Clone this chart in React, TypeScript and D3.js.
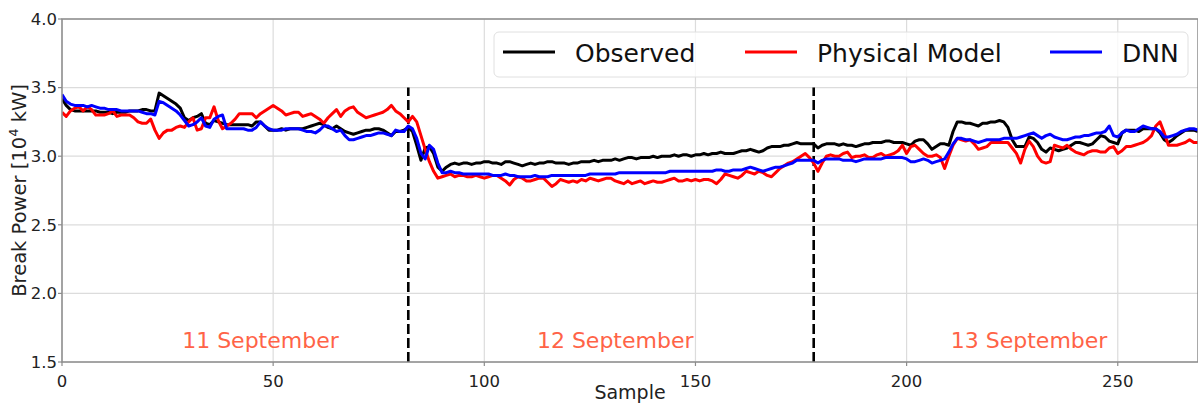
import React from "react";
import * as d3 from "d3";

// samples 0..269, values in 10^4 kW
const observed = [
  3.42, 3.37, 3.34, 3.33, 3.33, 3.33, 3.33, 3.33, 3.33, 3.32,
  3.32, 3.32, 3.31, 3.32, 3.32, 3.32, 3.33, 3.33, 3.33, 3.34,
  3.34, 3.33, 3.33, 3.46, 3.44, 3.42, 3.40, 3.38, 3.35, 3.28,
  3.26, 3.28, 3.29, 3.31, 3.24, 3.23, 3.26, 3.25, 3.24, 3.23,
  3.23, 3.23, 3.23, 3.23, 3.23, 3.22, 3.25, 3.25, 3.22, 3.19,
  3.19, 3.19, 3.20, 3.19, 3.20, 3.20, 3.20, 3.20, 3.21, 3.22,
  3.23, 3.24, 3.23, 3.21, 3.20, 3.22, 3.20, 3.18, 3.17, 3.16,
  3.17, 3.18, 3.19, 3.19, 3.20, 3.20, 3.19, 3.17, 3.15, 3.18,
  3.18, 3.19, 3.21, 3.18, 3.08, 2.97, 3.06, 3.07, 3.02, 2.92,
  2.89, 2.92, 2.94, 2.95, 2.94, 2.95, 2.95, 2.94, 2.95, 2.95,
  2.96, 2.96, 2.95, 2.95, 2.94, 2.96, 2.96, 2.95, 2.94, 2.93,
  2.94, 2.95, 2.94, 2.95, 2.95, 2.96, 2.96, 2.95, 2.95, 2.95,
  2.94, 2.95, 2.95, 2.96, 2.96, 2.96, 2.97, 2.96, 2.97, 2.97,
  2.97, 2.98, 2.97, 2.98, 2.99, 2.99, 2.98, 2.99, 2.99, 2.99,
  3.00, 2.99, 3.00, 3.00, 3.00, 3.01, 3.00, 3.01, 3.01, 3.00,
  3.01, 3.01, 3.02, 3.01, 3.02, 3.02, 3.03, 3.02, 3.02, 3.02,
  3.03, 3.04, 3.04, 3.05, 3.04, 3.03, 3.04, 3.06, 3.07, 3.07,
  3.07, 3.08, 3.08, 3.09, 3.10, 3.09, 3.09, 3.09, 3.09, 3.06,
  3.08, 3.09, 3.09, 3.09, 3.08, 3.09, 3.08, 3.08, 3.07, 3.08,
  3.09, 3.09, 3.10, 3.10, 3.10, 3.11, 3.11, 3.10, 3.10, 3.10,
  3.09, 3.08, 3.11, 3.12, 3.12, 3.09, 3.05, 3.07, 3.09, 3.09,
  3.08, 3.18, 3.25, 3.25, 3.24, 3.24, 3.23, 3.22, 3.24, 3.24,
  3.25, 3.25, 3.26, 3.25, 3.21, 3.12, 3.07, 3.07, 3.07, 3.14,
  3.13, 3.10, 3.05, 3.03, 3.06, 3.05, 3.04, 3.05, 3.06, 3.08,
  3.10, 3.10, 3.09, 3.08, 3.09, 3.12, 3.15, 3.14, 3.11, 3.10,
  3.09, 3.17, 3.19, 3.19, 3.19, 3.18, 3.20, 3.20, 3.20, 3.20,
  3.17, 3.12, 3.10, 3.12, 3.15, 3.17, 3.19, 3.19, 3.19, 3.18,
];

const physical = [
  3.32, 3.29, 3.33, 3.35, 3.36, 3.33, 3.36, 3.34, 3.30, 3.30,
  3.30, 3.31, 3.33, 3.29, 3.30, 3.30, 3.30, 3.28, 3.25, 3.24,
  3.24, 3.27, 3.19, 3.13, 3.17, 3.19, 3.19, 3.21, 3.22, 3.21,
  3.25, 3.28, 3.19, 3.20, 3.28, 3.28, 3.36, 3.26, 3.20, 3.22,
  3.24, 3.27, 3.31, 3.31, 3.31, 3.31, 3.28, 3.31, 3.33, 3.35,
  3.37, 3.35, 3.33, 3.30, 3.31, 3.32, 3.32, 3.29, 3.30, 3.31,
  3.29, 3.27, 3.24, 3.28, 3.31, 3.34, 3.29, 3.33, 3.35, 3.36,
  3.32, 3.30, 3.28, 3.29, 3.30, 3.31, 3.32, 3.34, 3.37, 3.33,
  3.31, 3.28, 3.25, 3.29, 3.25, 3.15, 3.05, 2.96, 2.89, 2.84,
  2.85, 2.86, 2.87, 2.85, 2.86, 2.86, 2.85, 2.85, 2.86, 2.85,
  2.84, 2.85, 2.86, 2.86, 2.84, 2.82, 2.79, 2.83, 2.85, 2.84,
  2.82, 2.82, 2.83, 2.84, 2.84, 2.81, 2.78, 2.80, 2.83, 2.82,
  2.81, 2.82, 2.81, 2.83, 2.82, 2.84, 2.83, 2.82, 2.83, 2.84,
  2.84, 2.82, 2.81, 2.80, 2.82, 2.80, 2.81, 2.82, 2.80, 2.81,
  2.82, 2.81, 2.81, 2.82, 2.83, 2.84, 2.82, 2.82, 2.83, 2.82,
  2.83, 2.82, 2.83, 2.83, 2.82, 2.80, 2.83, 2.87, 2.86, 2.85,
  2.84, 2.86, 2.89, 2.88, 2.87, 2.89, 2.88, 2.86, 2.85, 2.88,
  2.91, 2.93, 2.95, 2.96, 2.98, 3.00, 3.02, 2.99, 2.95, 2.89,
  2.95, 3.00, 3.01, 3.00, 3.00, 3.02, 3.03, 2.99, 3.00, 3.00,
  3.01, 2.99, 2.99, 3.01, 3.02, 3.00, 3.01, 3.02, 3.04, 3.08,
  3.02, 3.07, 3.08, 3.05, 3.02, 3.00, 3.00, 3.01, 2.99, 2.91,
  3.00, 3.08, 3.13, 3.12, 3.11, 3.12, 3.09, 3.05, 3.06, 3.07,
  3.10, 3.10, 3.10, 3.10, 3.10, 3.06, 3.02, 2.95, 3.05, 3.11,
  3.07, 3.00, 2.96, 2.95, 2.96, 3.08, 3.07, 3.06, 3.08, 3.05,
  3.03, 3.02, 3.01, 3.03, 3.04, 3.04, 3.03, 3.03, 3.06, 3.07,
  3.02, 3.04, 3.07, 3.07, 3.08, 3.09, 3.10, 3.12, 3.15, 3.22,
  3.25, 3.17, 3.08, 3.08, 3.08, 3.09, 3.10, 3.12, 3.10, 3.10,
];

const dnn = [
  3.45, 3.40, 3.38, 3.37, 3.37, 3.37, 3.36, 3.37, 3.36, 3.35,
  3.35, 3.34, 3.34, 3.34, 3.33, 3.33, 3.33, 3.33, 3.33, 3.32,
  3.31, 3.31, 3.30, 3.40, 3.39, 3.37, 3.35, 3.33, 3.30, 3.26,
  3.22, 3.23, 3.25, 3.28, 3.22, 3.21, 3.27, 3.29, 3.30, 3.20,
  3.20, 3.20, 3.20, 3.20, 3.19, 3.19, 3.21, 3.25, 3.22, 3.20,
  3.19, 3.19, 3.19, 3.20, 3.20, 3.20, 3.20, 3.19, 3.18, 3.18,
  3.17, 3.19, 3.22, 3.22, 3.20, 3.18, 3.19, 3.15, 3.12, 3.12,
  3.13, 3.14, 3.15, 3.15, 3.16, 3.17, 3.17, 3.16, 3.15, 3.19,
  3.18, 3.18, 3.22, 3.20, 3.13, 3.02, 2.98, 3.08, 3.05, 2.95,
  2.88, 2.88, 2.89, 2.88, 2.88, 2.87, 2.87, 2.87, 2.87, 2.87,
  2.87, 2.87, 2.86, 2.86, 2.86, 2.87, 2.86, 2.86, 2.85, 2.85,
  2.85, 2.85, 2.86, 2.85, 2.85, 2.85, 2.86, 2.86, 2.86, 2.86,
  2.86, 2.86, 2.86, 2.86, 2.86, 2.87, 2.87, 2.87, 2.87, 2.87,
  2.87, 2.87, 2.88, 2.88, 2.88, 2.88, 2.88, 2.88, 2.88, 2.88,
  2.88, 2.88, 2.88, 2.88, 2.89, 2.89, 2.89, 2.89, 2.89, 2.89,
  2.89, 2.89, 2.89, 2.89, 2.89, 2.90, 2.90, 2.89, 2.89, 2.90,
  2.90, 2.90, 2.91, 2.92, 2.91, 2.90, 2.89, 2.90, 2.91, 2.92,
  2.92, 2.93, 2.94, 2.95, 2.97, 2.97, 2.97, 2.97, 2.97, 2.95,
  2.97, 2.98, 2.98, 2.98, 2.98, 2.97, 2.97, 2.97, 2.96, 2.97,
  2.98, 2.98, 2.98, 2.98, 2.98, 2.99, 2.99, 2.99, 2.99, 2.99,
  2.98, 2.96, 2.96, 2.97, 2.98, 2.97, 2.95, 2.96, 2.97, 2.98,
  3.03, 3.09, 3.13, 3.13, 3.12, 3.12, 3.11, 3.10, 3.11, 3.12,
  3.12, 3.12, 3.12, 3.13, 3.13, 3.13, 3.13, 3.14, 3.15, 3.16,
  3.17, 3.15, 3.13, 3.15, 3.16, 3.14, 3.13, 3.12, 3.12, 3.13,
  3.14, 3.14, 3.15, 3.15, 3.16, 3.17, 3.17, 3.18, 3.22, 3.15,
  3.14, 3.17, 3.19, 3.18, 3.18, 3.20, 3.22, 3.21, 3.20, 3.20,
  3.18, 3.14, 3.14, 3.15, 3.16, 3.18, 3.19, 3.20, 3.20, 3.19,
];

const seriesNames = ["Observed", "Physical Model", "DNN"];
const seriesColors = ["#000000", "#ff0000", "#0000ff"];
const dayBreaks = [82, 178];
const dayLabels = ["11 September", "12 September", "13 September"];
const dayLabelX = [47, 131, 229];

const W = 1198;
const H = 404;
const margin = { left: 62, right: 0, top: 19, bottom: 42 };
const font = "'DejaVu Sans', sans-serif";

export default function App() {
  const x = d3.scaleLinear().domain([0, 269]).range([margin.left, W - margin.right]);
  const y = d3.scaleLinear().domain([1.5, 4.0]).range([H - margin.bottom, margin.top]);
  const line = d3
    .line<number>()
    .x((_, i) => x(i))
    .y((d) => y(d));
  const all = [observed, physical, dnn];
  const xTicks = x.ticks(6);
  const yTicks = y.ticks(5);
  const x0 = x.range()[0];
  const x1 = x.range()[1];
  const y0 = y.range()[0];
  const y1 = y.range()[1];

  // legend layout
  const legendItems = [
    { lx: 503, tx: 575 },
    { lx: 745, tx: 817 },
    { lx: 1050, tx: 1122 },
  ];

  return (
    <svg
      width={W}
      height={H}
      style={{ position: "absolute", left: 0, top: 0, fontFamily: font }}
    >
      <rect x={0} y={0} width={W} height={H} fill="#fff" />
      <defs>
        <clipPath id="plot">
          <rect x={x0} y={y1} width={x1 - x0} height={y0 - y1} />
        </clipPath>
      </defs>
      {/* grid */}
      {xTicks.map((t) => (
        <line key={"gx" + t} x1={x(t)} x2={x(t)} y1={y0} y2={y1} stroke="#dcdcdc" strokeWidth={1.2} />
      ))}
      {yTicks.map((t) => (
        <line key={"gy" + t} x1={x0} x2={x1} y1={y(t)} y2={y(t)} stroke="#dcdcdc" strokeWidth={1.2} />
      ))}
      {/* day separators */}
      {dayBreaks.map((b) => (
        <line
          key={"b" + b}
          x1={x(b)}
          x2={x(b)}
          y1={y(1.5)}
          y2={y(3.5)}
          stroke="#000"
          strokeWidth={2.6}
          strokeDasharray="10,4"
        />
      ))}
      {/* series */}
      <g clipPath="url(#plot)">
        {all.map((s, i) => (
          <path
            key={seriesNames[i]}
            d={line(s) || ""}
            fill="none"
            stroke={seriesColors[i]}
            strokeWidth={3}
            strokeLinejoin="round"
          />
        ))}
      </g>
      {/* day labels */}
      {dayLabels.map((t, i) => (
        <text
          key={t}
          x={x(dayLabelX[i])}
          y={y(1.6)}
          textAnchor="middle"
          fontSize={22}
          fill="#ff6347"
        >
          {t}
        </text>
      ))}
      {/* spines */}
      <rect x={x0} y={y1} width={x1 - x0} height={y0 - y1} fill="none" stroke="#8c8c8c" strokeWidth={1.5} />
      {/* ticks */}
      {yTicks.map((t) => (
        <g key={"ty" + t}>
          <line x1={x0 - 4} x2={x0} y1={y(t)} y2={y(t)} stroke="#8c8c8c" strokeWidth={1.2} />
          <text x={x0 - 5} y={y(t)} dy="0.35em" textAnchor="end" fontSize={16.5} fill="#222">
            {d3.format(".1f")(t)}
          </text>
        </g>
      ))}
      {xTicks.map((t) => (
        <g key={"tx" + t}>
          <line x1={x(t)} x2={x(t)} y1={y0} y2={y0 + 4} stroke="#8c8c8c" strokeWidth={1.2} />
          <text x={x(t)} y={y0 + 25} textAnchor="middle" fontSize={16.5} fill="#222">
            {t}
          </text>
        </g>
      ))}
      {/* axis labels */}
      <text x={(x0 + x1) / 2} y={399} textAnchor="middle" fontSize={19} fill="#222">
        Sample
      </text>
      <text
        transform={`translate(26,${(y0 + y1) / 2}) rotate(-90)`}
        textAnchor="middle"
        fontSize={19.5}
        fill="#222"
      >
        Break Power [10
        <tspan fontSize={13} dy={-8}>4</tspan>
        <tspan dy={8}> kW]</tspan>
      </text>
      {/* legend */}
      <rect
        x={494}
        y={32}
        width={694}
        height={45}
        rx={5}
        fill="#fff"
        fillOpacity={0.8}
        stroke="#e0e0e0"
        strokeWidth={1}
      />
      {seriesNames.map((n, i) => (
        <g key={"lg" + n}>
          <line
            x1={legendItems[i].lx}
            x2={legendItems[i].lx + 52}
            y1={52}
            y2={52}
            stroke={seriesColors[i]}
            strokeWidth={3}
          />
          <text x={legendItems[i].tx} y={62} fontSize={25} fill="#111">
            {n}
          </text>
        </g>
      ))}
    </svg>
  );
}
